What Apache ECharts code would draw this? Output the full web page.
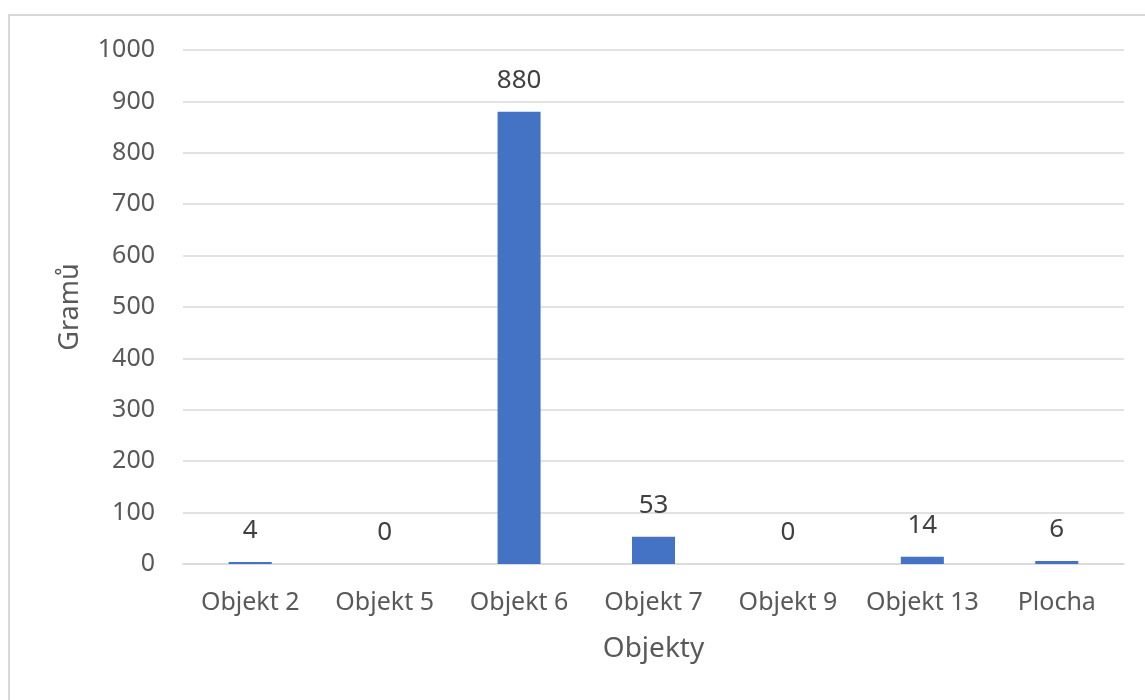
<!DOCTYPE html>
<html>
<head>
<meta charset="utf-8">
<script src="https://cdn.jsdelivr.net/npm/echarts@6/dist/echarts.min.js"></script>
<style>
html,body{margin:0;padding:0;background:#fff;}
#c{width:1145px;height:700px;}
</style>
</head>
<body>
<div id="c"></div>
<script>
const categories = ["Objekt 2","Objekt 5","Objekt 6","Objekt 7","Objekt 9","Objekt 13","Plocha"];
const values = [4,0,880,53,0,14,6];
const yTitle = "Gramů";
const xTitle = "Objekty";

const FONT = "Noto Sans";
const chart = echarts.init(document.getElementById('c'), null, {renderer:'canvas'});
chart.setOption({
  backgroundColor:'#fff',
  animation:false,
  textStyle:{fontFamily:FONT},
  graphic:[{
    type:'rect', shape:{x:9,y:15,width:1150,height:700},
    style:{fill:'none',stroke:'#d9d9d9',lineWidth:2}, silent:true
  }],
  grid:{left:183,right:21,top:50,bottom:136,containLabel:false},
  xAxis:{
    type:'category', data:categories,
    name:xTitle, nameLocation:'middle', nameGap:71,
    nameTextStyle:{color:'#595959',fontSize:28,fontFamily:FONT},
    axisLine:{show:true,lineStyle:{color:'#d9d9d9',width:1.5}},
    axisTick:{show:false},
    axisLabel:{color:'#595959',fontSize:25,margin:26,interval:0,fontFamily:FONT}
  },
  yAxis:{
    type:'value', min:0, max:1000, interval:100,
    name:yTitle, nameLocation:'middle', nameGap:99, nameRotate:90,
    nameTextStyle:{color:'#595959',fontSize:27,fontFamily:FONT},
    axisLine:{show:false}, axisTick:{show:false},
    splitLine:{lineStyle:{color:'#d9d9d9',width:1.5}},
    axisLabel:{color:'#595959',fontSize:25,margin:28,fontFamily:FONT,formatter:function(v){return String(v);}}
  },
  series:[{
    type:'bar', data:values, barWidth:'32%',
    itemStyle:{color:'#4472C4'},
    label:{show:true,position:'top',distance:18,color:'#404040',fontSize:26,fontFamily:FONT}
  }]
});
</script>
</body>
</html>
